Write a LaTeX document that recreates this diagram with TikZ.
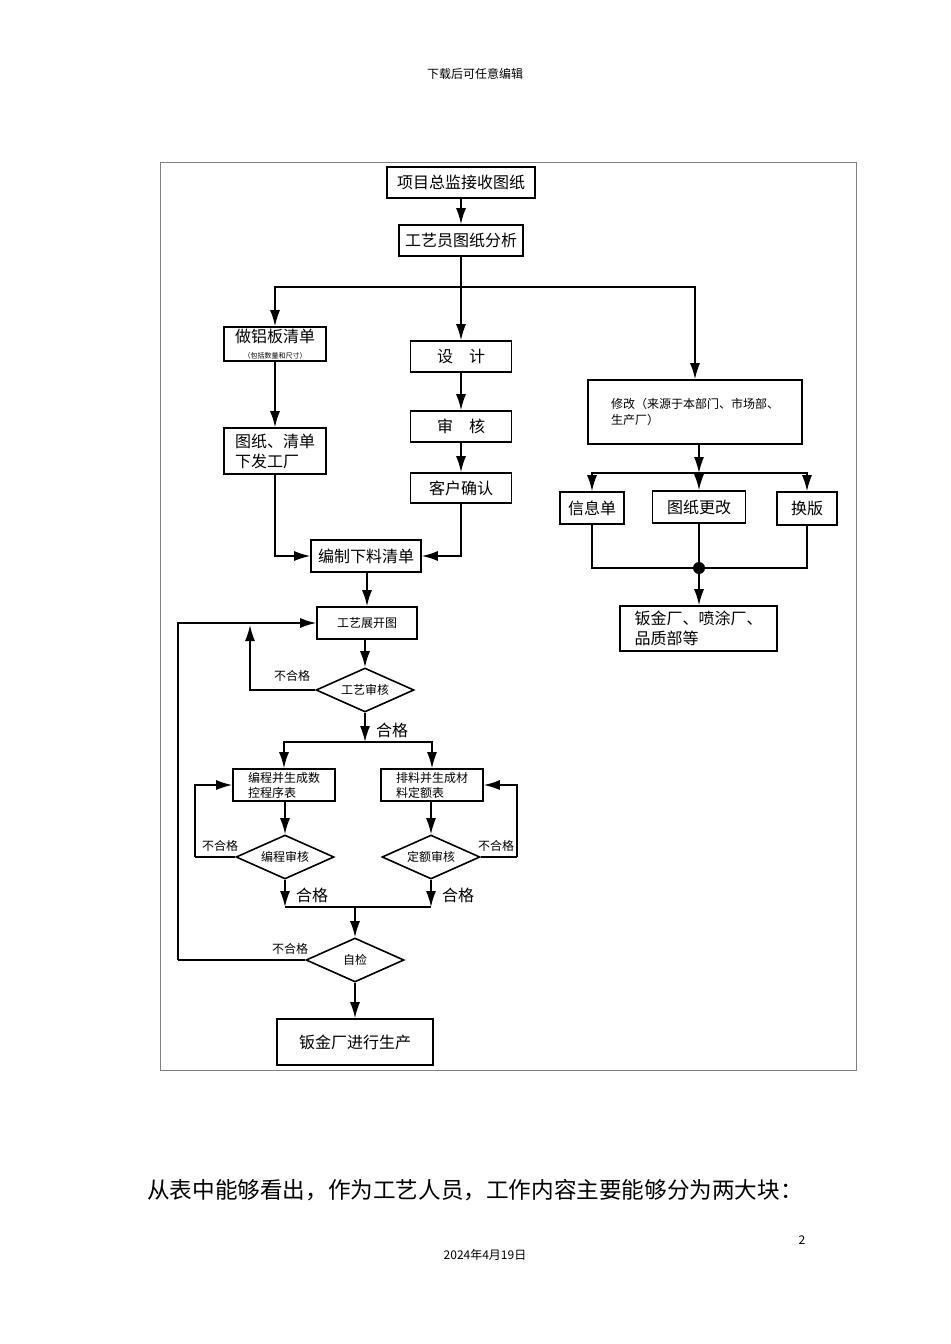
\documentclass[tikz,border=0pt]{standalone}
\usepackage{fontspec}
\setmainfont{Noto Sans CJK SC}
\usepackage{tikz}
\usetikzlibrary{positioning, shapes.geometric, arrows.meta}

\begin{document}
\begin{tikzpicture}[x=0.5pt, y=-0.5pt,
                    every node/.style = {text=black, font=\fontsize{8}{10}\selectfont, inner sep=1pt},
                    box/.style = {draw, thick, rectangle},
                    chk/.style = {draw, thick, diamond, aspect=2.2, minimum width=49pt, minimum height=22pt, inner sep=0pt, font=\fontsize{6}{7}\selectfont},
                    lbl/.style = {font=\fontsize{6}{7}\selectfont},
                    ok/.style = {font=\fontsize{8}{9}\selectfont},
                    line/.style = {draw, thick},
                    arr/.style = {draw, thick, -{Latex[length=8pt, width=5pt]}}]
    \useasboundingbox (0,0) rectangle (950,1344);
    \node (hd) at (475,74) [font=\fontsize{6}{7}\selectfont] {下载后可任意编辑};
    \draw[gray] (160,162) rectangle (856,1070);
    % main column
    \node (a) [box, minimum width=74pt, minimum height=15.5pt] at (461,182.5) {项目总监接收图纸};
    \node (b) [box, minimum width=62pt, minimum height=15.5pt] at (461,240.5) {工艺员图纸分析};
    \node (c) [box, minimum width=51pt, minimum height=16pt, align=center] at (275,344)
          {做铝板清单\\[-2pt]{\fontsize{3.5}{4}\selectfont（包括数量和尺寸）}};
    \node (d) [box, minimum width=50.5pt, minimum height=15.5pt] at (461,356.5) {设\quad 计};
    \node (e) [box, minimum width=107pt, minimum height=32pt, align=left, font=\fontsize{6}{8}\selectfont] at (695,412)
          {修改（来源于本部门、市场部、\\生产厂）\hspace*{48pt}};
    \node (f) [box, minimum width=51pt, minimum height=23pt, align=left] at (275,451) {图纸、清单\\下发工厂\hspace*{8pt}};
    \node (g) [box, minimum width=50.5pt, minimum height=15.5pt] at (461,426.5) {审\quad 核};
    \node (h) [box, minimum width=50.5pt, minimum height=15pt] at (461,488) {客户确认};
    \node (i) [box, minimum width=55pt, minimum height=16pt] at (366,556) {编制下料清单};
    % right branch
    \node (j) [box, minimum width=32pt, minimum height=16pt] at (592,508) {信息单};
    \node (k) [box, minimum width=46.5pt, minimum height=16pt] at (699,507) {图纸更改};
    \node (l) [box, minimum width=30pt, minimum height=16.5pt] at (807,508.5) {换版};
    \node (m) [box, minimum width=78.5pt, minimum height=22.5pt, align=left] at (698.5,628.5) {钣金厂、喷涂厂、\\品质部等\hspace*{24pt}};
    \coordinate (dot) at (699,568);
    \fill (dot) circle (6);
    % lower part
    \node (n) [box, minimum width=50pt, minimum height=16pt, font=\fontsize{6}{7}\selectfont] at (367,623) {工艺展开图};
    \node (o) [chk] at (365,690) {工艺审核};
    \node (p) [box, minimum width=51pt, minimum height=16pt, align=left, font=\fontsize{6}{7.5}\selectfont] at (284,785) {编程并生成数\\控程序表\hspace*{12pt}};
    \node (q) [box, minimum width=51pt, minimum height=16pt, align=left, font=\fontsize{6}{7.5}\selectfont] at (432,785) {排料并生成材\\料定额表\hspace*{12pt}};
    \node (r) [chk] at (285,857) {编程审核};
    \node (s) [chk] at (431,857) {定额审核};
    \node (t) [chk] at (355,960) {自检};
    \node (u) [box, minimum width=78pt, minimum height=23pt] at (355,1042) {钣金厂进行生产};
    % connectors
    \draw[arr] (a) -- (b);
    \coordinate (s1) at (461,287);
    \draw[line] (b) -- (s1);
    \draw[arr] (s1) -| (c);
    \draw[arr] (s1) -- (d);
    \draw[arr] (s1) -| (e);
    \draw[arr] (c) -- (f);
    \draw[arr] (d) -- (g);
    \draw[arr] (g) -- (h);
    \draw[arr] (f) |- (i);
    \draw[arr] (h.south) |- (i);
    \draw[arr] (i.south -| n) -- (n);
    \coordinate (s2) at (699,473);
    \draw[arr] (e.south -| s2) -- (s2);
    \draw[arr] (s2) -| (j);
    \draw[arr] (s2) -| (k);
    \draw[arr] (s2) -| (l);
    \draw[line] (j) |- (dot) -| (l);
    \draw[line] (k.south -| dot) -- (dot);
    \draw[arr] (dot) -- (m.north -| dot);
    \draw[arr] (n.south -| o) -- (o);
    \coordinate (fb1) at (250,625);
    \draw[arr] (o.west) -| (fb1);
    \node[lbl] at (292,676) {不合格};
    \coordinate (s3) at (365,742);
    \draw[arr] (o) -- (s3);
    \node[ok] at (392,730) {合格};
    \draw[arr] (s3) -| (p);
    \draw[arr] (s3) -| (q);
    \draw[arr] (p.south -| r) -- (r);
    \draw[arr] (q.south -| s) -- (s);
    \coordinate (fb2) at (195,857);
    \coordinate (fb3) at (517,857);
    \draw[line] (r.west) -- (fb2);
    \draw[arr] (fb2) |- (p.west);
    \draw[line] (s.east) -- (fb3);
    \draw[arr] (fb3) |- (q.east);
    \node[lbl] at (220,846) {不合格};
    \node[lbl] at (496,846) {不合格};
    \coordinate (s4) at (285,907);
    \coordinate (s5) at (431,907);
    \draw[arr] (r) -- (s4);
    \draw[arr] (s) -- (s5);
    \node[ok] at (312,895) {合格};
    \node[ok] at (458,895) {合格};
    \draw[line] (s4) -- (s5);
    \draw[arr] (355,907) -- (t);
    \coordinate (fb4) at (178,960);
    \draw[line] (t.west) -- (fb4);
    \draw[arr] (fb4) |- (n.west);
    \node[lbl] at (290,949) {不合格};
    \draw[arr] (t) -- (u);
    % page text
    \node (txt) at (475,1190) [font=\fontsize{11.3}{14}\selectfont] {从表中能够看出，作为工艺人员，工作内容主要能够分为两大块：};
    \node (pg) at (802,1240) [font=\fontsize{6}{7}\selectfont] {2};
    \node (dt) at (485,1255) [font=\fontsize{6}{7}\selectfont] {2024年4月19日};
\end{tikzpicture}
\end{document}
